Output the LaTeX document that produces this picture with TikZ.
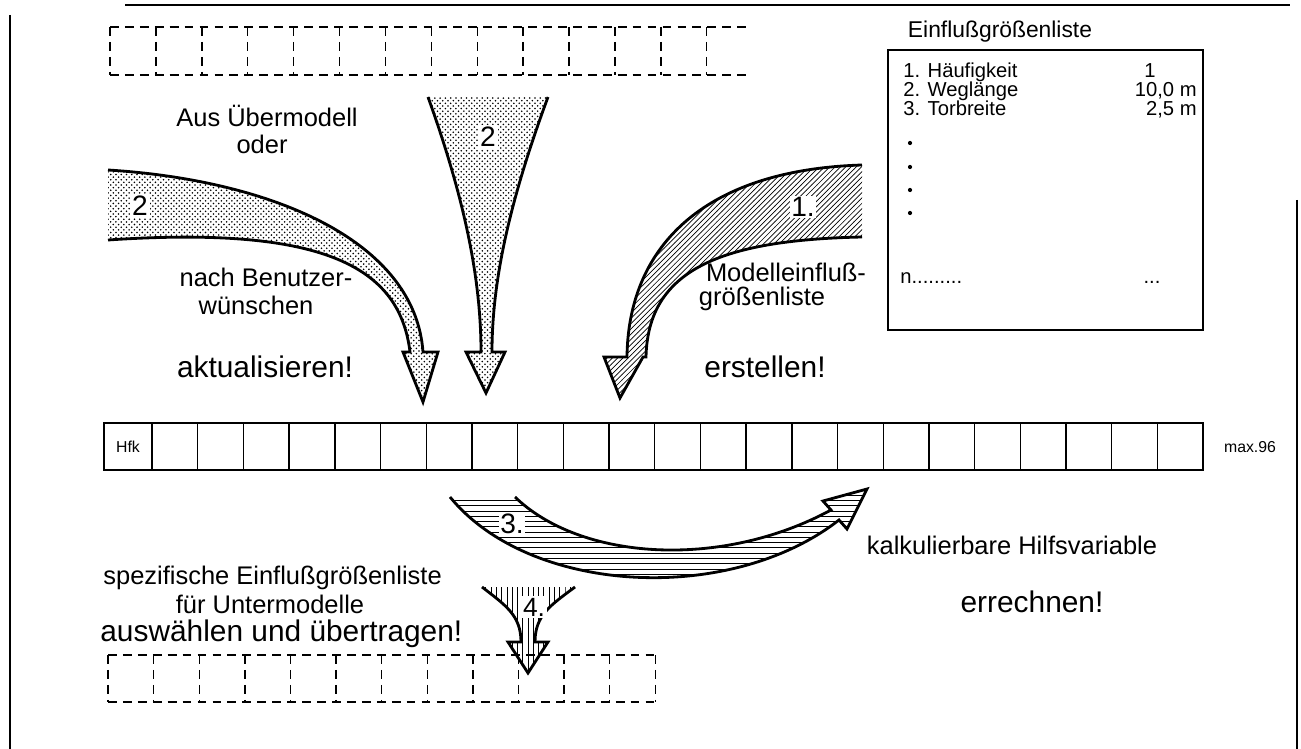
\documentclass[tikz,border=0pt]{standalone}
\usepackage{fontspec}
\setmainfont{Liberation Sans}
\usetikzlibrary{patterns}
\begin{document}
\begin{tikzpicture}[x=0.02cm,y=-0.02cm,
  txt/.style={font=\fontsize{14.5}{16}\selectfont,inner sep=0pt},
  big/.style={font=\fontsize{17}{20}\selectfont,inner sep=0pt},
  item/.style={font=\fontsize{11.5}{13}\selectfont,inner sep=0pt},
  num/.style={font=\fontsize{16}{18}\selectfont,fill=white,inner sep=1pt},
  arr/.style={draw,line width=1.6pt,line join=miter},
  dashrow/.style={draw,line width=0.8pt,dash pattern=on 5pt off 3.5pt}]
\useasboundingbox (0,0) rectangle (1301,749);
% frame
\draw[line width=0.6pt] (125,5) -- (1290,5);
\draw[line width=0.6pt] (10,15) -- (10,749);
\draw[line width=0.6pt] (1297,200) -- (1297,749);

% upper list (dashed)
\foreach \i in {0,...,13} \draw[dashrow] (110+45.9*\i,27) -- (110+45.9*\i,75);
\draw[dashrow] (110,27) -- (752,27);
\draw[dashrow] (110,75) -- (752,75);

% Einflussgroessenliste
\node[font=\fontsize{13}{15}\selectfont] (titel) at (1000,32) {Einflußgrößenliste};
\draw[line width=1pt] (888,50) rectangle (1203,330);
\node[item,anchor=base west] (e1) at (903,78) {1. Häufigkeit};
\node[item,anchor=base west] (e2) at (903,97) {2. Weglänge};
\node[item,anchor=base west] (e3) at (903,116) {3. Torbreite};
\node[item,anchor=base] (w1) at (1150,78) {1};
\node[item,anchor=base east] (w2) at (1197,97) {10,0 m};
\node[item,anchor=base east] (w3) at (1197,116) {2,5 m};
\foreach \y in {143,167,190,213} \fill (910,\y) circle (1.2pt);
\node[item,anchor=base west] (en) at (900,284) {n.........};
\node[item,anchor=base] (wn) at (1152,284) {...};

% 2: aus Uebermodell
\path[arr,pattern=crosshatch dots] (108,170) .. controls (270,180) and (415,240) .. (423,352)
  -- (438,352) -- (423,402) -- (403,352) -- (410,352)
  .. controls (400,270) and (330,225) .. (108,240);
\node[num] (n2a) at (140,206) {2};
\path[arr,pattern=crosshatch dots] (428,97) .. controls (465,200) and (481,280) .. (481,352)
  -- (466,352) -- (486,393) -- (505,352) -- (492,352)
  .. controls (492,280) and (510,200) .. (548,97);
\node[num] (n2b) at (488,137) {2};
\node[txt] (aus) at (267,116) {Aus Übermodell};
\node[txt] (oder) at (262,144) {oder};
\node[txt] (nach) at (266,277) {nach Benutzer-};
\node[txt] (wuensche) at (256,305) {wünschen};
\node[big] (aktual) at (265,367) {aktualisieren!};

% 1: erstellen
\path[arr,pattern=north east lines] (862,165) .. controls (700,170) and (628,250) .. (627,357)
  -- (604,357) -- (620,398) -- (643,357) -- (646,357)
  .. controls (648,270) and (720,240) .. (862,237);
\node[num] (n1) at (803,207) {1.};
\node[txt] (modell) at (786,272) {Modelleinfluß-};
\node[txt] (groessen) at (762,299) {größenliste};
\node[big] (erstellen) at (765,367) {erstellen!};

% main list
\draw[line width=1.3pt] (104,423) rectangle (1203,470);
\foreach \i in {0,...,22} \draw[line width=0.8pt] (152+45.7*\i,423) -- (152+45.7*\i,470);
\node[item,font=\fontsize{9}{10}\selectfont] (hfk) at (128,447) {Hfk};
\node[item,font=\fontsize{9}{10}\selectfont] (max) at (1250,447) {max.96};

% 3: errechnen
\path[arr,pattern=horizontal lines] (515,497) .. controls (580,560) and (720,570) .. (831,510)
  -- (823,501) -- (867,489) -- (847,529) -- (839,520)
  .. controls (730,605) and (530,595) .. (450,497);
\node[num] (n3) at (512,524) {3.};
\node[txt] (kalk) at (1012,545) {kalkulierbare Hilfsvariable};
\node[big] (errechnen) at (1032,602) {errechnen!};

% 4: auswaehlen
\path[arr,pattern=vertical lines] (482,587) .. controls (505,605) and (521,615) .. (521,642)
  -- (508,642) -- (528,673) -- (548,642) -- (535,642)
  .. controls (535,615) and (551,605) .. (575,587);
\node[num,font=\fontsize{15}{17}\selectfont] (n4) at (534,607) {4.};
\node[txt,anchor=west] (spez) at (103,578) {spezifische Einflußgrößenliste};
\node[txt] (fuer) at (270,604) {für Untermodelle};
\node[big,anchor=west] (auswahl) at (100,634) {auswählen und übertragen!};

% lower list (dashed)
\foreach \i in {0,...,12} \draw[dashrow] (108+45.6*\i,655) -- (108+45.6*\i,702);
\draw[dashrow] (108,655) -- (655,655);
\draw[dashrow] (108,702) -- (655,702);
\end{tikzpicture}
\end{document}
